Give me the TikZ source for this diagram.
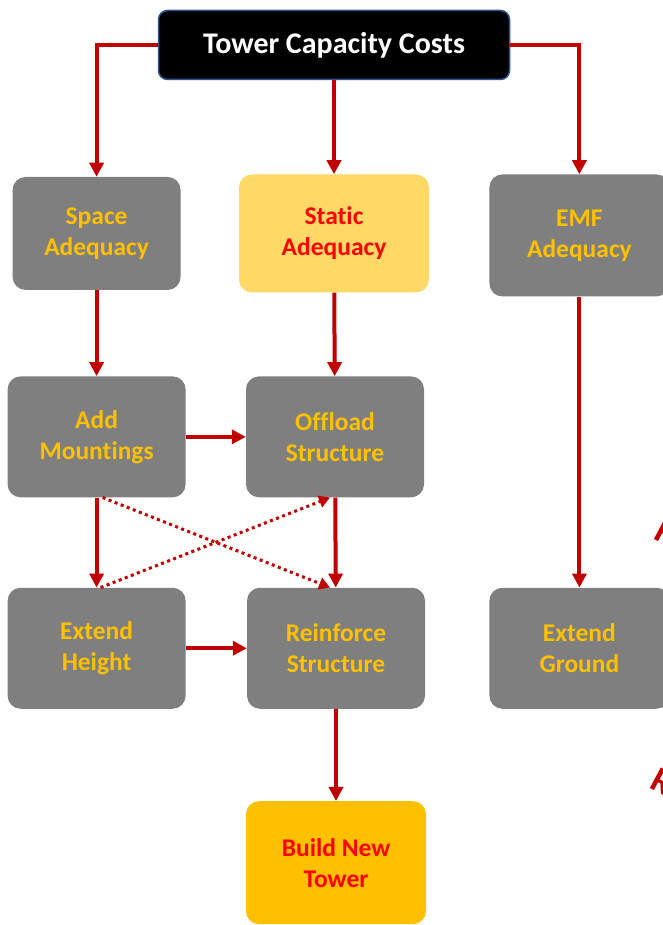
\documentclass[tikz,border=0pt]{standalone}
\usepackage{fontspec}
\setmainfont{Carlito}[Ligatures=NoCommon]
\usetikzlibrary{arrows.meta, positioning}
\definecolor{RougeFonce}{RGB}{192,0,0}
\definecolor{Gris}{RGB}{127,127,127}
\definecolor{Or}{RGB}{255,192,0}
\definecolor{JauneClair}{RGB}{255,217,102}
\definecolor{BleuBord}{RGB}{47,82,143}
\tikzset{bloc/.style={rectangle, rounded corners=13pt,
  fill=Gris, text=Or, align=center, font=\fontsize{25.5}{31}\selectfont\bfseries,
  minimum width=178pt, minimum height=121pt}}
\tikzset{blocj/.style={bloc, fill=JauneClair, text=red}}
\tikzset{titre/.style={rectangle, rounded corners=9pt, draw=BleuBord, line width=1.5pt,
  fill=black, text=white, font=\fontsize{30}{34}\selectfont\bfseries,
  minimum width=351pt, minimum height=69pt}}
\tikzset{fl/.style={-{Triangle[length=14pt,width=14pt]}, draw=RougeFonce, line width=4pt}}
\tikzset{flp/.style={-{Triangle[length=11pt,width=12pt]}, draw=RougeFonce, line width=3pt,
  dash pattern=on 3pt off 3.5pt}}

\begin{document}
\begin{tikzpicture}[x=1pt, y=-1pt]
\useasboundingbox (0,0) rectangle (663,925);
\node[titre] (titre) at (334,45) {Tower Capacity Costs};
\node[blocj, below=94pt of titre, minimum width=190pt, minimum height=118pt] (statique) {Static\\Adequacy};
\node[bloc, left=58pt of statique, minimum width=168pt, minimum height=113pt] (espace) {Space\\Adequacy};
\node[bloc, right=60pt of statique, yshift=-2pt, minimum width=180pt, minimum height=122pt] (emf) {EMF\\Adequacy};
\node[bloc, below=86pt of espace] (montage) {Add\\Mountings};
\node[bloc, right=60pt of montage] (decharge) {Offload\\Structure};
\node[bloc, below=90pt of montage] (hauteur) {Extend\\Height};
\node[bloc, right=61pt of hauteur] (renfort) {Reinforce\\Structure};
\node[bloc, right=64pt of renfort, minimum width=180pt] (sol) {Extend\\Ground};
\node[bloc, fill=Or, text=red, below=92pt of renfort, minimum width=180pt, minimum height=123pt] (neuve) {Build New\\Tower};
% fragments au bord droit
\node[text=RougeFonce, rotate=-28, font=\fontsize{36}{36}\selectfont\bfseries] (frag1) at (667,533) {R};
\node[text=RougeFonce, rotate=-28, font=\fontsize{36}{36}\selectfont\bfseries] (frag2) at (663,782) {R};
% fleches
\draw[fl] (titre.west) -| (espace.north);
\draw[fl] (titre.south) -- (statique.north);
\draw[fl] (titre.east) -| (emf.north);
\draw[fl] (espace) -- (montage);
\draw[fl] (statique) -- (decharge);
\draw[fl] (emf) -- (sol);
\draw[fl] (montage) -- (decharge);
\draw[fl] (montage) -- (hauteur);
\draw[fl] (decharge) -- (renfort);
\draw[fl] (hauteur) -- (renfort);
\draw[fl] (renfort) -- (neuve);
\draw[flp] ([xshift=6pt]montage.south) -- ([xshift=-6pt]renfort.north);
\draw[flp] ([xshift=4pt]hauteur.north) -- ([xshift=-5pt]decharge.south);
\end{tikzpicture}
\end{document}
